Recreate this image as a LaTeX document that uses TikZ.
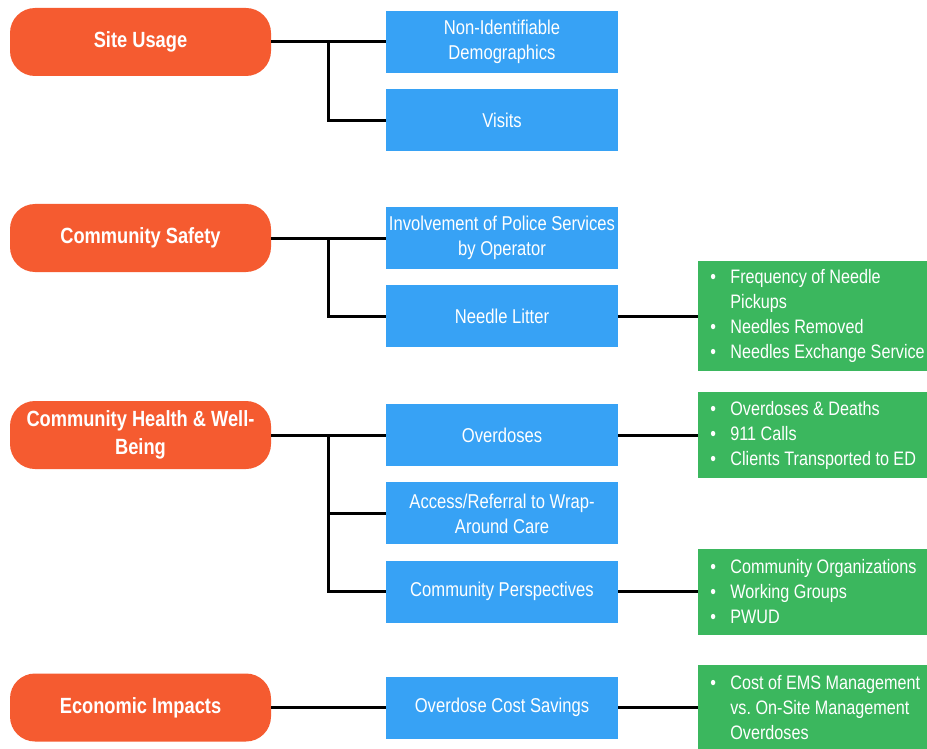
\documentclass[tikz,border=0pt]{standalone}
\usepackage{fontspec}
\setmainfont{Liberation Sans}[FakeStretch=0.83]
\usetikzlibrary{positioning,calc}
\frenchspacing

\definecolor{headorange}{HTML}{F55B30}
\definecolor{itemblue}{HTML}{37A2F5}
\definecolor{listgreen}{HTML}{3BB75E}

\newcommand{\gitem}[1]{\makebox[20pt][l]{\textbullet}#1}
\newcommand{\gcont}[1]{\hspace*{20pt}#1}

\begin{document}
\begin{tikzpicture}[x=1pt,y=-1pt,
  headbox/.style={fill=headorange, rounded corners=25pt, minimum width=261pt,
    minimum height=68pt, inner sep=0pt, text=white, align=center,
    font=\fontsize{22}{28}\selectfont\bfseries},
  itembox/.style={fill=itemblue, minimum width=232pt, minimum height=62pt,
    inner sep=0pt, text=white, align=center, font=\fontsize{20}{25}\selectfont},
  listbox/.style={fill=listgreen, text width=240pt, inner xsep=12pt, inner ysep=0pt,
    minimum height=86pt, text=white, align=flush left, font=\fontsize{19.5}{25}\selectfont},
  link/.style={line width=3pt},
]
\useasboundingbox (0,0) rectangle (927,749);

% Headings
\node[headbox] (site)   at (140.5,42)  {Site Usage};
\node[headbox] (safety) at (140.5,238) {Community Safety};
\node[headbox] (health) at (140.5,435) {Community Health \& Well-\\Being};
\node[headbox] (econ)   at (140.5,707.5) {Economic Impacts};

% Measures
\node[itembox] (nonid) at (502,42) {Non-Identifiable\\Demographics};
\node[itembox, below=16pt of nonid] (visits) {Visits};

\node[itembox] (police) at (502,238) {Involvement of Police Services\\by Operator};
\node[itembox, below=16pt of police] (needle) {Needle Litter};

\node[itembox] (overdose) at (502,435) {Overdoses};
\node[itembox, below=16pt of overdose] (access) {Access/Referral to Wrap-\\Around Care};
\node[itembox, below=16pt of access] (persp) {Community Perspectives};

\node[itembox] (savings) at (502,707.5) {Overdose Cost Savings};

% Indicators
\node[listbox, minimum height=110pt, right=80pt of needle] (needlelist)
  {\gitem{Frequency of Needle}\\\gcont{Pickups}\\\gitem{Needles Removed}\\\gitem{Needles Exchange Service}};
\node[listbox, right=80pt of overdose] (overdoselist)
  {\gitem{Overdoses \& Deaths}\\\gitem{911 Calls}\\\gitem{Clients Transported to ED}};
\node[listbox, right=80pt of persp] (persplist)
  {\gitem{Community Organizations}\\\gitem{Working Groups}\\\gitem{PWUD}};
\node[listbox, right=80pt of savings] (savingslist)
  {\gitem{Cost of EMS Management}\\\gcont{vs. On-Site Management}\\\gcont{Overdoses}};

% Connectors
\coordinate (siteJ)   at ($(site.east)!0.5!(nonid.west)$);
\coordinate (safetyJ) at ($(safety.east)!0.5!(police.west)$);
\coordinate (healthJ) at ($(health.east)!0.5!(overdose.west)$);

\draw[link] (site.east) -- (nonid.west);
\draw[link] (siteJ) |- (visits.west);

\draw[link] (safety.east) -- (police.west);
\draw[link] (safetyJ) |- (needle.west);
\draw[link] (needle.east) -- (needlelist.west);

\draw[link] (health.east) -- (overdose.west);
\draw[link] (healthJ) |- (access.west);
\draw[link] (healthJ) |- (persp.west);
\draw[link] (overdose.east) -- (overdoselist.west);
\draw[link] (persp.east) -- (persplist.west);

\draw[link] (econ.east) -- (savings.west);
\draw[link] (savings.east) -- (savingslist.west);
\end{tikzpicture}
\end{document}
